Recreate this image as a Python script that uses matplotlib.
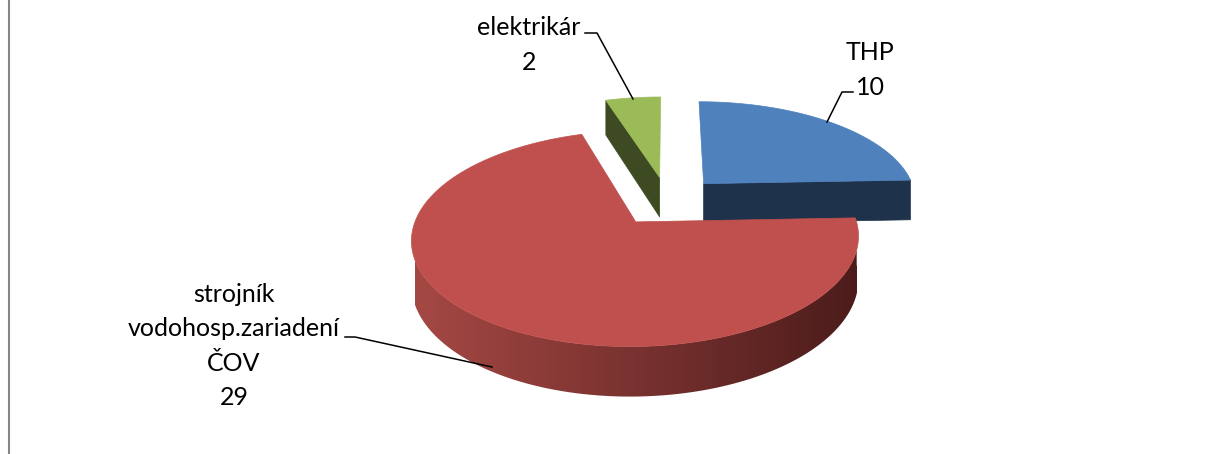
"""3D exploded pie of staff by profession (Excel-style), drawn with plain patches."""

import matplotlib

matplotlib.use("Agg")
import matplotlib.pyplot as plt
import numpy as np
from matplotlib.patches import Polygon

# data, in drawing order (Excel starts at 12 o'clock and goes clockwise)
labels = ["THP", "strojník\nvodohosp.zariadení\nČOV", "elektrikár"]
values = [10, 29, 2]
top_colors = ["#4F81BD", "#C0504D", "#9BBB59"]
cut_colors = ["#1F324B", "#5A2321", "#3E4B22"]
wall_left = np.array([165, 72, 68]) / 255
wall_right = np.array([76, 28, 27]) / 255

# projection of the pie disc (pixel space)
CX, CY = 667.5, 201.0
R, RY = 214.0, 99.0
PERSP = 0.15
THICK = 41.0
EXPLODE = 0.25

plt.rcParams["font.family"] = ["Lato", "DejaVu Sans"]

z = [1]


def nextz():
    z[0] += 1
    return z[0]


def proj(X, Z, h):
    """Ground plane (X right, Z back) plus height h (1 = top face) -> pixels."""
    X = np.asarray(X, float)
    Z = np.asarray(Z, float)
    s = 1.0 / (1.0 + PERSP * Z)
    x = CX + R * X * s
    y = CY - RY * Z * s + THICK * (1 - h) * s
    return x, y


def sector(ax, a0, a1, top_c, cut_c, off):
    ox, oz = off
    th = np.radians(np.linspace(a0, a1, 300))
    rx, rz = ox + np.sin(th), oz + np.cos(th)

    # radial cut faces that turn toward the viewer
    for ang, side in ((a0, -1), (a1, 1)):
        normal = np.radians(ang + side * 90)
        if np.cos(normal) < -0.05:
            ex, ez = ox + np.sin(np.radians(ang)), oz + np.cos(np.radians(ang))
            pts = [proj(ox, oz, 1), proj(ex, ez, 1), proj(ex, ez, 0), proj(ox, oz, 0)]
            ax.add_patch(Polygon([(float(p[0]), float(p[1])) for p in pts],
                                 closed=True, fc=cut_c, ec=cut_c, lw=0.5, zorder=nextz()))

    # outer curved wall, front half only, shaded left to right
    front = np.cos(th) < 0
    if front.any():
        xt, yt = proj(rx[front], rz[front], 1)
        xb, yb = proj(rx[front], rz[front], 0)
        wall = np.column_stack([np.r_[xt, xb[::-1]], np.r_[yt, yb[::-1]]])
        x_lo, x_hi = proj(ox - 1, oz, 1)[0], proj(ox + 1, oz, 1)[0]
        t = np.linspace(0, 1, 256)
        grad = (wall_left[None, :] * (1 - t[:, None]) + wall_right[None, :] * t[:, None])[None, :, :]
        clip = Polygon(wall, closed=True, fc="none", ec="none", transform=ax.transData)
        im = ax.imshow(grad, extent=(float(x_lo), float(x_hi), float(yb.max()) + 2, float(yt.min()) - 2),
                       aspect="auto", interpolation="bilinear", zorder=nextz())
        im.set_clip_path(clip)

    # top face
    xt, yt = proj(rx, rz, 1)
    ax0, ay0 = proj(ox, oz, 1)
    poly = np.column_stack([np.r_[ax0, xt], np.r_[ay0, yt]])
    ax.add_patch(Polygon(poly, closed=True, fc=top_c, ec=top_c, lw=0.5, zorder=nextz()))


fig = plt.figure(figsize=(12.05, 4.54), dpi=100)
ax = fig.add_axes([0, 0, 1, 1])

total = sum(values)
starts = np.cumsum([0] + values[:-1]) / total * 360
spans = np.array(values) / total * 360
slices = []
for i in range(len(values)):
    a0, a1 = starts[i], starts[i] + spans[i]
    mid = np.radians((a0 + a1) / 2)
    off = (EXPLODE * np.sin(mid), EXPLODE * np.cos(mid))
    slices.append((off[1], i, a0, a1, off))

# back slices first
for _, i, a0, a1, off in sorted(slices, key=lambda s: -s[0]):
    sector(ax, a0, a1, top_colors[i], cut_colors[i], off)

ax.set_xlim(0, 1205)
ax.set_ylim(454, 0)
ax.axis("off")

# data labels with leader lines
fs = 18
ls = 1.6
ax.text(870, 70, f"{labels[0]}\n{values[0]}", ha="center", va="center",
        fontsize=fs, linespacing=ls, zorder=50)
ax.plot([853, 842, 827], [92, 92, 122], color="black", lw=1.1, zorder=50)

ax.text(234, 346, f"{labels[1]}\n{values[1]}", ha="center", va="center",
        fontsize=fs, linespacing=ls, zorder=50)
ax.plot([345, 355, 492], [337, 337, 367], color="black", lw=1.1, zorder=50)

ax.text(529, 45, f"{labels[2]}\n{values[2]}", ha="center", va="center",
        fontsize=fs, linespacing=ls, zorder=50)
ax.plot([585, 597, 633], [33, 33, 99], color="black", lw=1.1, zorder=50)

# chart area border (only the left edge is inside the crop)
ax.plot([8.5, 8.5], [0, 454], color="#868686", lw=1.5, zorder=50)

fig.savefig("out.png", dpi=100)
